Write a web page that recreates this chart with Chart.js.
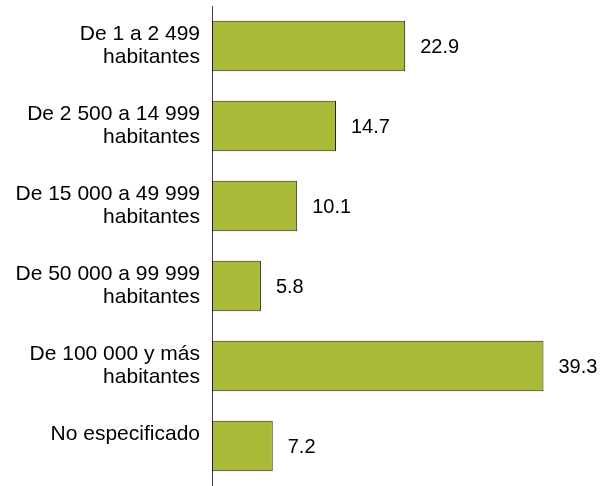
<!DOCTYPE html>
<html>
<head>
<meta charset="utf-8">
<script src="https://cdn.jsdelivr.net/npm/chart.js@4/dist/chart.umd.min.js"></script>
<style>
  html, body { margin: 0; padding: 0; background: #fff; }
  #wrap { width: 609px; height: 486px; }
</style>
</head>
<body>
<div id="wrap"><canvas id="chart0"></canvas></div>
<script>
// categories (multi-line labels) and values
const categories = [
  ['De 1 a 2 499', 'habitantes'],
  ['De 2 500 a 14 999', 'habitantes'],
  ['De 15 000 a 49 999', 'habitantes'],
  ['De 50 000 a 99 999', 'habitantes'],
  ['De 100 000 y más', 'habitantes'],
  ['No especificado', '']
];
const values = [22.9, 14.7, 10.1, 5.8, 39.3, 7.2];

const barColor = '#aab937';
const fontFamily = 'Arial, "Liberation Sans", sans-serif';

// write value next to each bar
const valueLabels = {
  id: 'valueLabels',
  afterDatasetsDraw(chart) {
    const ctx = chart.ctx;
    const meta = chart.getDatasetMeta(0);
    ctx.save();
    ctx.font = '20px ' + fontFamily;
    ctx.fillStyle = '#000';
    ctx.textAlign = 'left';
    ctx.textBaseline = 'middle';
    meta.data.forEach((bar, i) => {
      ctx.fillText(values[i].toFixed(1), bar.x + 15, bar.y + 1);
    });
    ctx.restore();
  }
};

new Chart(document.getElementById('chart0').getContext('2d'), {
  type: 'bar',
  data: {
    labels: categories,
    datasets: [{
      data: values,
      backgroundColor: barColor,
      borderColor: '#222',
      borderWidth: 1,
      borderSkipped: false,
      barPercentage: 0.63,
      categoryPercentage: 1.0
    }]
  },
  options: {
    indexAxis: 'y',
    responsive: true,
    maintainAspectRatio: false,
    animation: false,
    layout: { padding: { top: 6, right: 9, bottom: 0, left: 0 } },
    plugins: {
      legend: { display: false },
      tooltip: { enabled: false }
    },
    scales: {
      x: {
        display: false,
        min: 0,
        max: 46
      },
      y: {
        afterFit: s => {
          s.width = 212;
          s.paddingTop = 0;
          s.paddingBottom = 0;
        },
        grid: { display: false, drawTicks: false },
        border: { display: true, color: '#444', width: 1 },
        ticks: {
          padding: 12,
          color: '#000',
          font: { family: fontFamily, size: 21, lineHeight: 1.1 }
        }
      }
    }
  },
  plugins: [valueLabels]
});
</script>
</body>
</html>
